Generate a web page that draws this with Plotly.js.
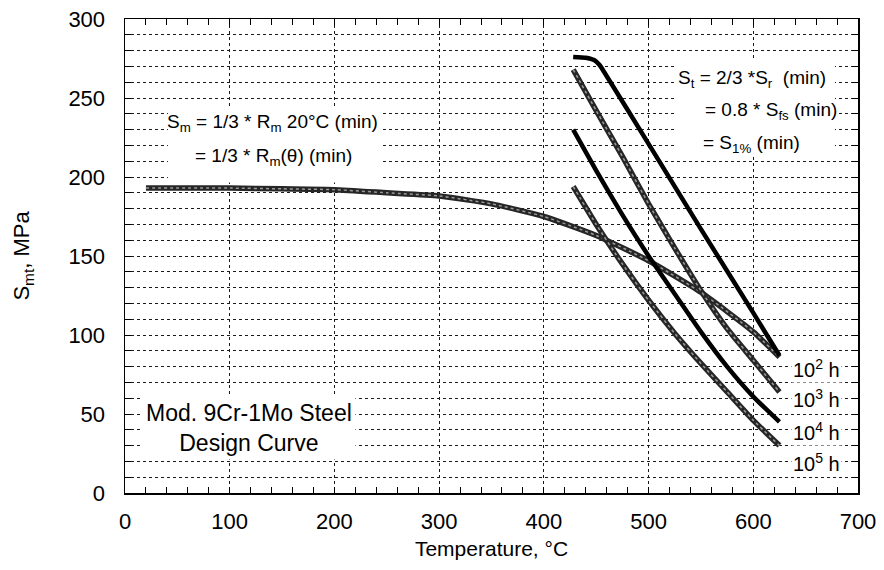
<!DOCTYPE html>
<html>
<head>
<meta charset="utf-8">
<script src="https://cdn.plot.ly/plotly-3.0.1.min.js"></script>
<style>html,body{margin:0;padding:0;background:#fff;}#chart{width:884px;height:570px;}</style>
</head>
<body>
<div id="chart"></div>
<script>
// Design curve S_m
const smTemp = [20, 100, 150, 200, 250, 300, 350, 400, 450, 500, 550, 600, 625];
const smVal  = [193, 193, 192.5, 192, 190, 188, 183, 175, 163, 147, 127, 102, 86];
// Creep curves S_t
const t2Temp = [428, 440, 448, 453, 458, 500, 550, 600, 625];
const t2Val  = [276, 275.5, 274, 271, 266, 221, 167, 114, 87];
const t3Temp = [428, 450, 475, 500, 525, 550, 575, 600, 625];
const t3Val  = [268, 242, 213, 183, 155, 128, 104, 84, 64];
const t4Temp = [428, 450, 475, 500, 525, 550, 575, 600, 625];
const t4Val  = [230, 204, 176, 150, 126, 102, 80, 61, 45];
const t5Temp = [428, 450, 475, 500, 525, 550, 575, 600, 625];
const t5Val  = [194, 170, 145, 122, 101, 82, 64, 46, 30];
// Curve labels
const hourLabels = ["10<sup>2</sup> h", "10<sup>3</sup> h", "10<sup>4</sup> h", "10<sup>5</sup> h"];
const hourLabelY = [79, 60, 39, 19];
const hourLabelX = 660;

const FONT = "Liberation Sans, Arial, Helvetica, sans-serif";

function hatched(x, y) {
  return [
    {x: x, y: y, mode: 'lines', line: {color: '#262626', width: 5.5, shape: 'spline', smoothing: 0.5}, hoverinfo: 'skip', showlegend: false},
    {x: x, y: y, mode: 'lines', line: {color: '#9a9a9a', width: 1.5, dash: 'dot', shape: 'spline', smoothing: 0.5}, hoverinfo: 'skip', showlegend: false}
  ];
}
function solid(x, y) {
  return [{x: x, y: y, mode: 'lines', line: {color: '#000', width: 4.5, shape: 'spline', smoothing: 0.5}, hoverinfo: 'skip', showlegend: false}];
}

const data = [].concat(
  hatched(smTemp, smVal),
  hatched(t5Temp, t5Val),
  hatched(t3Temp, t3Val),
  solid(t4Temp, t4Val),
  solid(t2Temp, t2Val)
);

const txt = (x, y, text, size, extra) => Object.assign({x: x, y: y, xref: 'x', yref: 'y', showarrow: false,
  text: text, font: {family: FONT, size: size, color: '#000'}}, extra || {});

const annotations = [
  txt(140.5, 234, "S<sub>m</sub> = 1/3 * R<sub>m</sub> 20°C (min)", 19),
  txt(142, 212.5, "= 1/3 * R<sub>m</sub>(θ) (min)", 19),
  txt(118, 41, "Mod. 9Cr-1Mo Steel<br>Design Curve", 23, {align: 'center', bgcolor: '#fff', borderpad: 3}),
  txt(526, 262, "S<sub>t</sub> = 2/3 *S<sub>r</sub>  (min)", 19, {xanchor: 'left'}),
  txt(552, 242, "= 0.8 * S<sub>fs</sub> (min)", 19, {xanchor: 'left'}),
  txt(550, 221, "= S<sub>1%</sub> (min)", 19, {xanchor: 'left'})
];
for (let i = 0; i < hourLabels.length; i++) {
  annotations.push(txt(hourLabelX, hourLabelY[i], hourLabels[i], 20, {bgcolor: '#fff', borderpad: 1}));
}

const layout = {
  width: 884, height: 570,
  margin: {l: 125, r: 26, t: 19, b: 77},
  paper_bgcolor: '#fff', plot_bgcolor: '#fff',
  font: {family: FONT, size: 22, color: '#000'},
  showlegend: false,
  xaxis: {
    range: [0, 700], dtick: 100, tick0: 0,
    showline: true, linecolor: '#000', linewidth: 1.5, mirror: 'ticks',
    ticks: 'inside', ticklen: 6, tickcolor: '#000', tickwidth: 1,
    showgrid: true, gridcolor: '#1a1a1a', gridwidth: 1, griddash: 'dot',
    zeroline: false,
    tickfont: {family: FONT, size: 22},
    ticklabelstandoff: 8,
    minor: {dtick: 20, ticks: 'inside', ticklen: 6, tickcolor: '#000', showgrid: false},
    title: {text: 'Temperature, °C', font: {family: FONT, size: 21}, standoff: 8}
  },
  yaxis: {
    range: [0, 300], dtick: 50, tick0: 0,
    showline: true, linecolor: '#000', linewidth: 1.5, mirror: 'ticks',
    ticks: 'inside', ticklen: 6, tickcolor: '#000', tickwidth: 1,
    showgrid: true, gridcolor: '#1a1a1a', gridwidth: 1, griddash: 'dot',
    zeroline: false,
    tickfont: {family: FONT, size: 22},
    ticklabelstandoff: 14,
    minor: {dtick: 10, ticks: 'inside', ticklen: 6, tickcolor: '#000', showgrid: true, gridcolor: '#1a1a1a', gridwidth: 1, griddash: 'dot'},
    title: {text: 'S<sub>mt</sub>, MPa', font: {family: FONT, size: 22}, standoff: 32}
  },
  shapes: [
    {type: 'rect', xref: 'x', yref: 'y', x0: 41, x1: 245, y0: 196.5, y1: 245, fillcolor: '#fff', line: {width: 0}, layer: 'above'},
    {type: 'rect', xref: 'x', yref: 'y', x0: 525, x1: 678, y0: 214, y1: 275, fillcolor: '#fff', line: {width: 0}, layer: 'above'}
  ],
  annotations: annotations
};

Plotly.newPlot('chart', data, layout, {staticPlot: true, displayModeBar: false});
</script>
</body>
</html>
